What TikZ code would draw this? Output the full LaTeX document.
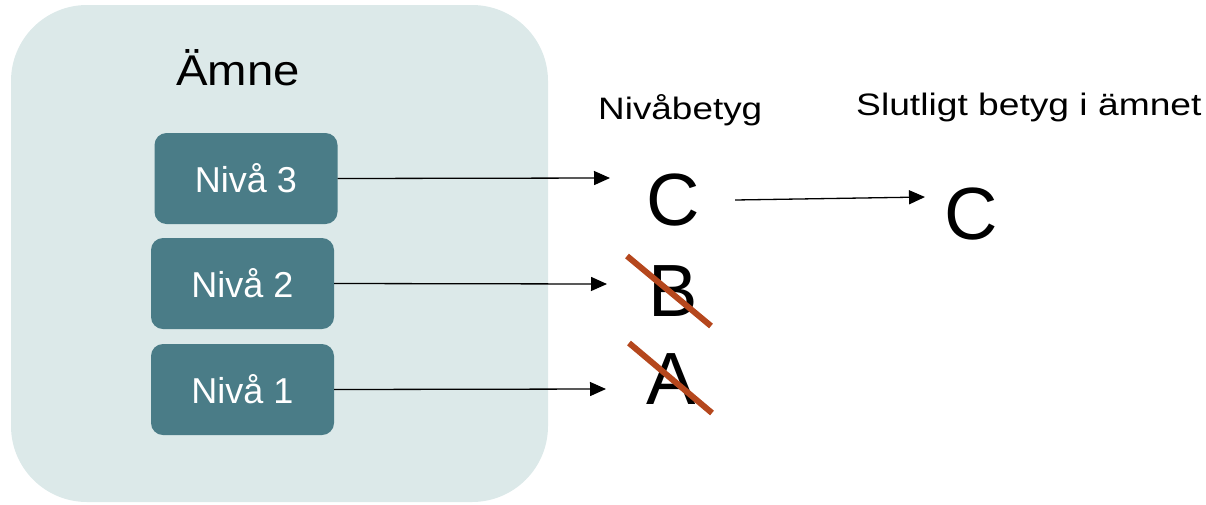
\documentclass[tikz,border=0pt]{standalone}
\usepackage{fontspec}
\usepackage{graphicx}
\setmainfont{Liberation Sans}
\usetikzlibrary{arrows.meta}
\definecolor{bgbox}{RGB}{220,233,233}
\definecolor{lvl}{RGB}{74,124,135}
\definecolor{crossred}{RGB}{181,71,29}
\tikzset{
  lvlbox/.style={fill=lvl, draw=none, rounded corners=12pt, minimum width=183pt, minimum height=91pt, inner sep=0pt, text=white, font=\fontsize{36}{43}\selectfont},
  grade/.style={anchor=base, inner sep=0pt, font=\fontsize{74}{80}\selectfont},
  heading/.style={anchor=base west, inner sep=0pt},
  arr/.style={line width=1.3pt, -{Triangle[length=16pt,width=14pt]}},
  cross/.style={line width=6pt, draw=crossred}
}
\begin{document}
\begin{tikzpicture}[x=1pt,y=-1pt]
\useasboundingbox (0,0) rectangle (1206,504);
\fill[bgbox, rounded corners=76pt] (11,5) rectangle (548,502);
\node[heading, font=\fontsize{43}{50}\selectfont] (amne) at (176,85) {\scalebox{1.1}[1]{Ämne}};
\node[lvlbox] (n3) at (246,178.5) {Nivå 3};
\node[lvlbox] (n2) at (242.5,283.5) {Nivå 2};
\node[lvlbox] (n1) at (242.5,389.5) {Nivå 1};
\node[heading, font=\fontsize{31}{37}\selectfont] (hniva) at (598,119) {\scalebox{1.19}[1]{Nivåbetyg}};
\node[heading, font=\fontsize{31}{37}\selectfont] (hslut) at (856,115) {\scalebox{1.2}[1]{Slutligt betyg i ämnet}};
\node[grade] (gC) at (673,225) {C};
\node[grade] (gB) at (673,316) {B};
\node[grade] (gA) at (671,404) {A};
\node[grade] (fC) at (971,239) {C};
\coordinate (t3) at (610,178);
\coordinate (t2) at (607,284);
\coordinate (t1) at (606,389);
\coordinate (s4) at (735,200);
\coordinate (t4) at (925,197);
\draw[arr] (n3.east) -- (t3);
\draw[arr] (n2.east) -- (t2);
\draw[arr] (n1.east) -- (t1);
\draw[arr] (s4) -- (t4);
\draw[cross] (627,256) -- (711,326);
\draw[cross] (629,343) -- (712,413);
\end{tikzpicture}
\end{document}
